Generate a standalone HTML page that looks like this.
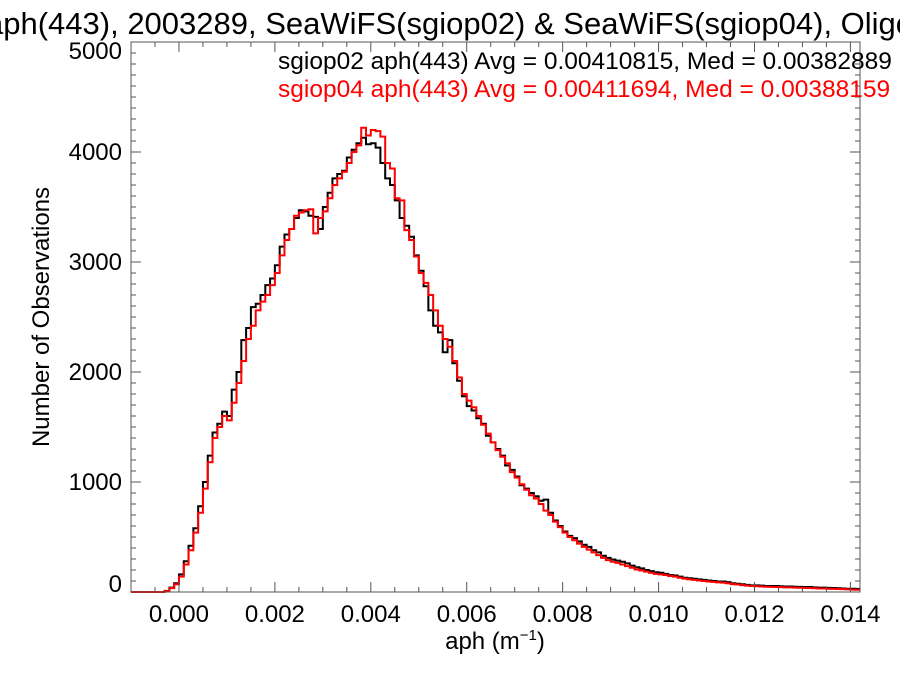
<!DOCTYPE html>
<html><head><meta charset="utf-8"><style>
html,body{margin:0;padding:0;background:#fff;}
svg{display:block;font-family:"Liberation Sans",Arial,sans-serif;}
</style></head><body>
<svg id="chart" width="900" height="675" viewBox="0 0 900 675">
<text x="-14" y="34" font-size="31" fill="#000">aph(443), 2003289, SeaWiFS(sgiop02) &amp; SeaWiFS(sgiop04), Oligotrophic</text>
<g id="plot"></g>
<text x="278" y="69" font-size="24.5" fill="#000">sgiop02 aph(443) Avg = 0.00410815, Med = 0.00382889</text>
<text x="278" y="97" font-size="24.5" fill="#ff0000">sgiop04 aph(443) Avg = 0.00411694, Med = 0.00388159</text>
<text x="495" y="649" font-size="24" text-anchor="middle">aph (m<tspan font-size="15" dy="-9">−1</tspan><tspan dy="9">)</tspan></text>
<text transform="translate(49,317) rotate(-90)" font-size="24" text-anchor="middle">Number of Observations</text>
</svg>
<script>
const binStart = -0.001;
const binWidth = 0.0001;
const xTickLabels = ["0.000","0.002","0.004","0.006","0.008","0.010","0.012","0.014"];
const yTickLabels = ["0","1000","2000","3000","4000","5000"];
const sgiop02Counts = [0,0,0,0,0,0,0,10,40,80,
160,280,420,580,780,1000,1240,1450,1530,1640,
1600,1840,2000,2290,2400,2590,2620,2700,2790,2850,
2970,3140,3250,3300,3400,3470,3460,3420,3410,3300,
3500,3630,3760,3800,3830,3950,4020,4080,4130,4070,
4080,4040,3900,3760,3700,3560,3400,3330,3230,3060,
2920,2780,2560,2420,2360,2180,2290,2080,1920,1780,
1690,1650,1580,1530,1420,1360,1300,1240,1150,1110,
1050,970,940,900,870,830,840,720,650,600,
550,510,490,460,430,410,380,360,330,310,
295,285,275,260,240,225,215,200,190,180,
175,165,155,150,140,130,125,120,115,110,
105,100,95,95,90,80,75,70,65,60,
60,58,55,55,55,52,50,50,48,47,
45,45,42,40,40,38,36,34,32,30,
30,28];
const sgiop04Counts = [0,0,0,0,0,0,0,8,35,70,
140,250,380,540,720,940,1180,1400,1500,1600,
1560,1720,1900,2100,2300,2420,2560,2640,2700,2790,
2900,3060,3200,3300,3420,3450,3470,3480,3260,3400,
3460,3580,3700,3760,3820,3900,4000,4060,4220,4150,
4200,4190,4140,3900,3850,3580,3560,3290,3200,3050,
2900,2810,2700,2560,2420,2300,2230,2100,1950,1800,
1740,1680,1600,1520,1440,1360,1290,1230,1170,1090,
1040,980,930,880,850,800,740,700,640,590,
540,500,470,440,410,385,360,335,310,290,
275,265,250,235,220,205,195,185,175,165,
160,155,145,140,130,122,115,110,105,100,
96,92,88,85,80,72,68,62,58,54,
52,50,48,47,46,44,42,42,40,39,
38,36,34,32,32,30,28,27,26,24,
22,20];

const L=131,R=860,T=42,B=592;
const xMin=-0.001, xMax=0.0142, yMax=5000;
function xs(v){return L+(v-xMin)/(xMax-xMin)*(R-L);}
function ys(v){return B-v/yMax*(B-T);}
const NS="http://www.w3.org/2000/svg";
const plot=document.getElementById('plot');
function mk(tag,attrs,parent){const e=document.createElementNS(NS,tag);for(const k in attrs)e.setAttribute(k,attrs[k]);(parent||plot).appendChild(e);return e;}

function stepPath(counts){
  let d="M"+xs(binStart).toFixed(2)+","+ys(0).toFixed(2);
  for(let i=0;i<counts.length;i++){
    const x0=xs(binStart+i*binWidth), x1=Math.min(xs(binStart+(i+1)*binWidth),R), y=ys(counts[i]);
    d+=" L"+x0.toFixed(2)+","+y.toFixed(2)+" L"+x1.toFixed(2)+","+y.toFixed(2);
  }
  return d;
}
const p1=mk('path',{d:stepPath(sgiop02Counts),fill:'none',stroke:'#000','stroke-width':2,'stroke-linejoin':'miter'});


const p2=mk('path',{d:stepPath(sgiop04Counts),fill:'none',stroke:'#ff0000','stroke-width':2,'stroke-linejoin':'miter'});



const frame=mk('rect',{x:L,y:T,width:R-L,height:B-T,fill:'none',stroke:'#555','stroke-width':1});



for(let k=-2;k<=30;k++){
  const v=k*0.0005; if(v<xMin-1e-9||v>xMax) continue;
  const x=xs(v); const major=(k%4===0); const len=major?10:5;
  mk('line',{x1:x,y1:B,x2:x,y2:B-len,stroke:'#555','stroke-width':1});
  mk('line',{x1:x,y1:T,x2:x,y2:T+len,stroke:'#555','stroke-width':1});
}
xTickLabels.forEach((lab)=>{
  const t=mk('text',{x:xs(parseFloat(lab)),y:622,'font-size':24,'text-anchor':'middle'});
  t.textContent=lab;
  
  
});
for(let v=0;v<=yMax;v+=100){
  const y=ys(v); const major=(v%1000===0); const len=major?10:5;
  mk('line',{x1:L,y1:y,x2:L+len,y2:y,stroke:'#555','stroke-width':1});
  mk('line',{x1:R,y1:y,x2:R-len,y2:y,stroke:'#555','stroke-width':1});
}
yTickLabels.forEach((lab)=>{
  const v=parseFloat(lab); let y=ys(v)+8;
  if(v===0) y=ys(v)+0;
  if(v===yMax) y=ys(v)+17;
  const t=mk('text',{x:122,y:y,'font-size':24,'text-anchor':'end'});
  t.textContent=lab;
  
  
});
</script>
</body></html>
